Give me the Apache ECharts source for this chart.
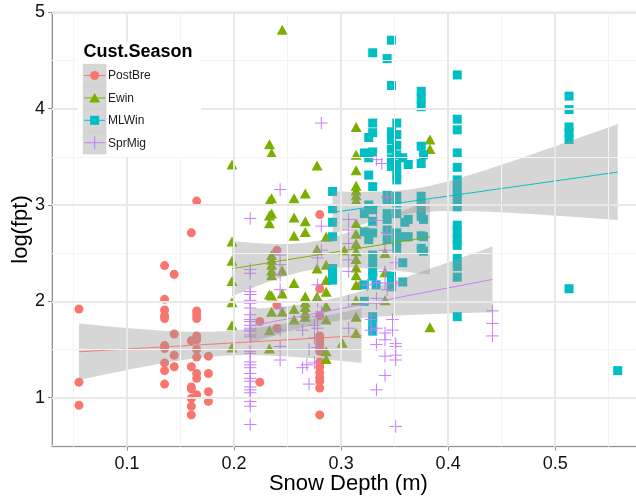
<!DOCTYPE html>
<html>
<head>
<meta charset="utf-8">
<script src="https://cdn.jsdelivr.net/npm/echarts@6/dist/echarts.min.js"></script>
<style>
html,body{margin:0;padding:0;background:#fff;}
#chart{width:636px;height:501px;}
</style>
</head>
<body>
<div id="chart"></div>
<script>
// Axis ticks and grid positions
const xTicks = [0.1, 0.2, 0.3, 0.4, 0.5];
const xMinor = [0.05, 0.15, 0.25, 0.35, 0.45, 0.55];
const yTicks = [1, 2, 3, 4, 5];
const yMinor = [0.5, 1.5, 2.5, 3.5, 4.5];
const xRange = [0.0298, 0.5837];
const yRange = [0.49, 5.0];

// Groups
const seasons = ['PostBre', 'Ewin', 'MLWin', 'SprMig'];
const colors = ['#F8766D', '#7CAE00', '#00BFC4', '#C77CFF'];

// Observations: [snow depth (m), log(fpt)]
const postBre = [
  [0.055,1.92],[0.055,1.16],[0.055,0.92],
  [0.135,2.37],[0.135,2.02],[0.135,1.91],[0.135,1.85],[0.135,1.82],[0.135,1.54],[0.135,1.51],[0.135,1.36],[0.135,1.28],[0.135,1.14],
  [0.144,2.28],[0.144,1.66],[0.144,1.44],[0.144,1.32],
  [0.160,2.71],[0.160,1.59],[0.160,1.32],[0.160,1.11],[0.160,1.09],[0.160,0.99],[0.160,0.91],[0.160,0.82],
  [0.165,3.04],[0.165,1.90],[0.165,1.86],[0.165,1.82],[0.165,1.64],[0.165,1.60],[0.165,1.50],[0.165,1.42],[0.165,1.25],[0.165,1.20],[0.165,1.03],
  [0.176,1.43],[0.176,1.25],[0.176,1.06],[0.176,0.96],
  [0.224,1.79],[0.224,1.16],
  [0.240,2.53],[0.240,1.96],[0.240,1.72],
  [0.280,2.90],[0.280,2.13],[0.280,1.85],[0.280,1.64],[0.280,1.60],[0.280,1.56],[0.280,1.52],[0.280,1.48],[0.280,1.37],[0.280,1.32],[0.280,1.26],[0.280,1.21],[0.280,1.17],[0.280,1.10],[0.280,0.82],
  [0.319,2.17]
];

const ewin = [
  [0.198,3.42],[0.198,2.62],[0.198,2.42],[0.198,2.21],[0.198,1.99],[0.198,1.75],[0.198,1.52],
  [0.233,3.63],[0.233,3.04],[0.233,2.89],[0.233,2.81],[0.233,2.07],[0.233,1.70],[0.233,1.51],
  [0.235,3.54],[0.235,3.07],[0.235,2.91],[0.235,2.48],[0.235,2.43],[0.235,2.38],[0.235,2.32],[0.235,2.27],[0.235,2.06],[0.235,1.89],
  [0.245,4.82],[0.245,2.32],[0.245,2.08],[0.245,1.89],
  [0.256,3.07],[0.256,2.87],[0.256,2.68],[0.256,2.19],[0.256,1.92],[0.256,1.81],
  [0.2665,3.12],[0.2665,2.83],[0.2665,2.72],[0.2665,2.05],[0.2665,1.99],[0.2665,1.94],[0.2665,1.88],[0.2665,1.84],
  [0.2775,3.41],[0.2775,2.54],[0.2775,2.34],[0.2775,2.05],
  [0.286,2.67],[0.286,2.38],[0.286,2.22],[0.286,2.10],[0.286,1.95],[0.286,1.81],[0.286,1.48],[0.286,1.40],
  [0.301,1.57],[0.303,2.53],
  [0.314,3.81],[0.314,3.52],[0.314,3.36],[0.314,3.20],[0.314,3.15],[0.314,3.10],[0.314,3.05],[0.314,2.81],[0.314,2.70],[0.314,2.60],[0.314,2.52],[0.314,2.44],[0.314,2.35],[0.314,2.27],[0.314,2.17],[0.314,2.01],[0.314,1.84],[0.314,1.67],
  [0.341,2.50],[0.341,2.30],[0.341,2.01],
  [0.383,3.68],[0.383,3.58],[0.383,1.73]
];

const mlWin = [
  [0.292,3.14],[0.292,2.96],[0.292,2.82],[0.292,2.67],[0.292,2.34],[0.292,2.29],[0.292,2.22],
  [0.3217,3.54],[0.3217,2.91],[0.3217,2.72],[0.3217,2.17],[0.3217,2.00],
  [0.3258,3.70],[0.3258,3.49],[0.3258,3.31],[0.3258,3.00],[0.3258,2.64],
  [0.3295,4.58],[0.3295,3.85],[0.3295,3.75],[0.3295,3.55],[0.3295,3.19],[0.3295,2.95],[0.3295,2.83],[0.3295,2.71],[0.3295,2.48],[0.3295,2.40],[0.3295,2.30],[0.3295,2.26],[0.3295,1.84],[0.3295,1.75],[0.3295,1.69],
  [0.3327,2.17],
  [0.343,4.52],[0.343,3.10],[0.343,3.05],[0.343,2.91],[0.343,2.85],[0.343,2.74],[0.343,2.64],
  [0.347,4.71],[0.347,4.24],[0.347,3.76],[0.347,3.68],[0.347,3.58],[0.347,3.48],[0.347,3.43],[0.347,3.40],[0.347,2.26],[0.347,2.19],[0.347,2.15],
  [0.352,3.85],[0.352,3.73],[0.352,3.62],[0.352,3.52],[0.352,3.42],[0.352,3.33],[0.352,3.26],[0.352,3.09],[0.352,3.02],[0.352,2.91],[0.352,2.71],[0.352,2.62],[0.352,2.55],
  [0.3576,3.49],[0.3576,2.40],[0.3576,2.20],
  [0.3595,2.82],[0.3595,2.67],
  [0.3627,3.42],[0.3627,2.85],[0.3627,2.67],
  [0.3748,4.18],[0.3748,4.10],[0.3748,4.02],[0.3748,3.61],[0.3748,3.43],[0.3748,3.09],[0.3748,3.02],[0.3748,2.95],[0.3748,2.88],[0.3748,2.68],[0.3748,2.55],
  [0.377,3.52],[0.377,2.85],[0.377,2.67],[0.377,2.52],
  [0.4085,4.35],[0.4085,3.89],[0.4085,3.78],[0.4085,3.54],[0.4085,3.39],[0.4085,3.26],[0.4085,3.19],[0.4085,3.12],[0.4085,3.05],[0.4085,2.98],[0.4085,2.79],[0.4085,2.72],[0.4085,2.65],[0.4085,2.58],[0.4085,2.45],[0.4085,2.36],[0.4085,2.25],[0.4085,1.84],
  [0.513,4.13],[0.513,3.99],[0.513,3.81],[0.513,3.75],[0.513,3.68],[0.513,2.13],
  [0.5585,1.28]
];

const sprMig = [
  [0.215,2.86],[0.215,2.33],[0.215,2.29],[0.215,2.10],[0.215,2.07],[0.215,2.01],[0.215,1.98],[0.215,1.93],[0.215,1.86],[0.215,1.81],[0.215,1.79],[0.215,1.75],[0.215,1.72],[0.215,1.70],[0.215,1.69],[0.215,1.65],[0.215,1.63],[0.215,1.48],[0.215,1.46],[0.215,1.37],[0.215,1.34],[0.215,1.31],[0.215,1.25],[0.215,1.20],[0.215,1.17],[0.215,1.11],[0.215,1.08],[0.215,1.05],[0.215,0.96],[0.215,0.91],[0.215,0.72],
  [0.243,3.16],[0.243,2.48],[0.243,2.38],[0.243,2.27],[0.243,2.12],[0.243,1.93],[0.243,1.70],[0.243,1.53],[0.243,1.39],
  [0.264,1.70],[0.264,1.31],[0.268,1.34],[0.270,1.50],[0.270,1.14],
  [0.275,1.75],[0.275,1.62],[0.275,1.36],
  [0.278,2.45],[0.278,2.17],[0.278,2.00],[0.278,1.84],[0.278,1.72],[0.278,1.52],
  [0.2815,3.85],[0.2815,2.78],[0.2815,2.53],[0.2815,1.89],
  [0.307,2.85],[0.307,2.74],[0.307,2.60],[0.307,2.43],[0.307,2.31],[0.307,2.00],[0.307,1.72],
  [0.3248,2.17],[0.328,1.81],[0.328,1.70],
  [0.333,3.47],[0.333,2.84],[0.333,2.19],[0.333,2.03],[0.333,1.98],[0.333,1.72],[0.333,1.55],[0.333,1.08],
  [0.338,3.43],
  [0.341,2.53],[0.341,2.31],[0.341,2.19],[0.341,1.67],[0.341,1.60],[0.341,1.43],[0.341,1.23],
  [0.343,3.08],[0.343,2.71],[0.343,2.12],
  [0.348,1.81],[0.348,1.70],
  [0.351,2.40],[0.351,2.19],[0.351,1.56],[0.351,1.53],[0.351,1.44],[0.351,1.39],[0.351,0.70],
  [0.4414,1.90],[0.4414,1.77],[0.4414,1.64]
];

const groups = [postBre, ewin, mlWin, sprMig];

// Ordinary least squares fit with a 95% confidence band for the mean
function tQuantile975(df) {
  const z = 1.959964;
  return z + (z ** 3 + z) / (4 * df) + (5 * z ** 5 + 16 * z ** 3 + 3 * z) / (96 * df * df);
}
function linearFit(pts, steps) {
  const n = pts.length;
  let mx = 0, my = 0;
  pts.forEach(p => { mx += p[0]; my += p[1]; });
  mx /= n; my /= n;
  let sxx = 0, sxy = 0;
  pts.forEach(p => { sxx += (p[0] - mx) ** 2; sxy += (p[0] - mx) * (p[1] - my); });
  const b = sxy / sxx, a = my - b * mx;
  let sse = 0;
  pts.forEach(p => { sse += (p[1] - a - b * p[0]) ** 2; });
  const s = Math.sqrt(sse / (n - 2)), t = tQuantile975(n - 2);
  const xs = pts.map(p => p[0]);
  const lo = Math.min(...xs), hi = Math.max(...xs);
  const rows = [];
  for (let i = 0; i <= steps; i++) {
    const x = lo + (hi - lo) * i / steps;
    const yh = a + b * x;
    const se = s * Math.sqrt(1 / n + (x - mx) ** 2 / sxx);
    rows.push([x, yh, yh - t * se, yh + t * se]);
  }
  return rows;
}

const symbols = ['circle', 'triangle', 'rect', 'path://M6,0L6,12M0,6L12,6'];
const symbolSizes = [9, [11, 10], 9, 12.5];

const series = [];

// Background grid drawn through the axes' scales
const gridLines = [];
xMinor.forEach(v => gridLines.push({ xAxis: v, lineStyle: { color: '#f4f4f4', width: 1, type: 'solid' } }));
yMinor.forEach(v => gridLines.push({ yAxis: v, lineStyle: { color: '#f4f4f4', width: 1, type: 'solid' } }));
xTicks.forEach(v => gridLines.push({ xAxis: v, lineStyle: { color: '#e8e8e8', width: 2, type: 'solid' } }));
yTicks.forEach(v => gridLines.push({ yAxis: v, lineStyle: { color: '#e8e8e8', width: 2, type: 'solid' } }));
series.push({
  type: 'line', data: [], z: 0, silent: true,
  markLine: { silent: true, symbol: ['none', 'none'], label: { show: false }, animation: false, data: gridLines }
});

// Points
groups.forEach((g, i) => {
  const cross = i === 3;
  series.push({
    name: seasons[i], type: 'scatter', data: g, z: 2,
    symbol: symbols[i], symbolSize: symbolSizes[i],
    itemStyle: cross
      ? { color: 'rgba(0,0,0,0)', borderColor: colors[i], borderWidth: 1, opacity: 1 }
      : { color: colors[i], opacity: 1 }
  });
});

// Smoothers: confidence ribbon then fitted line, per group
groups.forEach((g, i) => {
  const band = linearFit(g, 80);
  series.push({
    type: 'custom', coordinateSystem: 'cartesian2d', z: 3, silent: true,
    data: band.map(r => [r[0], r[2], r[3]]),
    encode: { x: 0, y: [1, 2] },
    renderItem: (params, api) => {
      if (params.dataIndex !== 0) return null;
      const upper = band.map(r => api.coord([r[0], r[3]]));
      const lower = band.map(r => api.coord([r[0], r[2]])).reverse();
      return { type: 'polygon', shape: { points: upper.concat(lower) }, style: { fill: 'rgba(153,153,153,0.4)' } };
    }
  });
  series.push({
    type: 'line', z: 3, silent: true, showSymbol: false,
    data: band.map(r => [r[0], r[1]]),
    lineStyle: { color: colors[i], width: 1 }
  });
});

// Legend drawn as a key block in the upper-left of the panel
const keyX = 83.3, keyY = 64.3, keyW = 22.7, keyH = 22.4;
const legendEls = [
  { type: 'rect', shape: { x: 78, y: 41, width: 123, height: 116 }, style: { fill: '#fff' } },
  { type: 'text', style: { text: 'Cust.Season', x: 83.5, y: 52.5, font: 'bold 18px "Liberation Sans", Arial, sans-serif', fill: '#000', verticalAlign: 'middle' } }
];
seasons.forEach((name, i) => {
  const y0 = keyY + i * keyH, cx = keyX + keyW / 2, cy = y0 + keyH / 2;
  legendEls.push({ type: 'rect', shape: { x: keyX, y: y0, width: keyW, height: keyH }, style: { fill: '#d6d6d6', stroke: '#cdcdcd', lineWidth: 0.7 } });
  legendEls.push({ type: 'line', shape: { x1: keyX + 1, y1: cy, x2: keyX + keyW - 1, y2: cy }, style: { stroke: colors[i], lineWidth: 1 } });
  if (i === 0) legendEls.push({ type: 'circle', shape: { cx: cx, cy: cy, r: 4.5 }, style: { fill: colors[i] } });
  if (i === 1) legendEls.push({ type: 'polygon', shape: { points: [[cx, cy - 5], [cx + 5.5, cy + 4.5], [cx - 5.5, cy + 4.5]] }, style: { fill: colors[i] } });
  if (i === 2) legendEls.push({ type: 'rect', shape: { x: cx - 4.5, y: cy - 4.5, width: 9, height: 9 }, style: { fill: colors[i] } });
  if (i === 3) {
    legendEls.push({ type: 'line', shape: { x1: cx, y1: cy - 6.5, x2: cx, y2: cy + 6.5 }, style: { stroke: colors[i], lineWidth: 1 } });
  }
  legendEls.push({ type: 'text', style: { text: name, x: 108, y: cy + 0.5, font: '12px "Liberation Sans", Arial, sans-serif', fill: '#1a1a1a', verticalAlign: 'middle' } });
});

const axisColor = '#8f8f8f';
const option = {
  animation: false,
  backgroundColor: '#fff',
  textStyle: { fontFamily: '"Liberation Sans", Arial, sans-serif' },
  grid: {
    left: 52, top: 12.3, right: -8.7, bottom: 54.3,
    show: true, borderColor: '#b5b5b5', borderWidth: 1, backgroundColor: '#fff',
    outerBoundsMode: 'none', containLabel: false
  },
  xAxis: {
    type: 'value', min: xRange[0], max: xRange[1],
    name: 'Snow Depth (m)', nameLocation: 'middle', nameGap: 26, nameMoveOverlap: false,
    nameTextStyle: { fontSize: 22, color: '#000' },
    axisLine: { show: true, onZero: false, lineStyle: { color: axisColor, width: 1 } },
    axisTick: { show: true, customValues: xTicks, length: 4, lineStyle: { color: axisColor } },
    axisLabel: { customValues: xTicks, formatter: v => v.toFixed(1), fontSize: 18, color: '#111', margin: 8 },
    splitLine: { show: false }
  },
  yAxis: {
    type: 'value', min: yRange[0], max: yRange[1],
    name: 'log(fpt)', nameLocation: 'middle', nameGap: 20, nameMoveOverlap: false,
    nameTextStyle: { fontSize: 22, color: '#000' },
    axisLine: { show: true, onZero: false, lineStyle: { color: axisColor, width: 1 } },
    axisTick: { show: true, customValues: yTicks, length: 4, lineStyle: { color: axisColor } },
    axisLabel: { customValues: yTicks, formatter: v => String(Math.round(v)), fontSize: 18, color: '#111', margin: 7 },
    splitLine: { show: false }
  },
  series: series,
  graphic: { elements: legendEls.map(e => Object.assign({ z: 100, silent: true }, e)) }
};

const chart = echarts.init(document.getElementById('chart'), null, { renderer: 'canvas' });
chart.setOption(option);
</script>
</body>
</html>
